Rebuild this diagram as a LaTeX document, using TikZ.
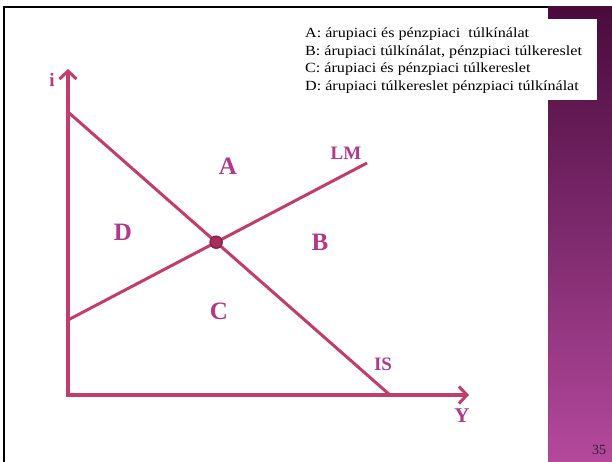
\documentclass[tikz,border=0pt]{standalone}
\usepackage{fontspec}
\setmainfont{Liberation Serif}
\newfontfamily\legfont[FakeStretch=1.15]{Liberation Serif}
\usetikzlibrary{arrows.meta}
\definecolor{curve}{HTML}{C23C6C}
\definecolor{lab}{HTML}{B2388A}
\definecolor{dotc}{HTML}{A52F5E}
\definecolor{dotb}{HTML}{8A2250}
\definecolor{stripT}{HTML}{4A0B3C}
\definecolor{stripM}{HTML}{7E2A6E}
\definecolor{stripB}{HTML}{B4499C}
\tikzset{
  curveline/.style={draw=curve, line width=3pt},
  axisline/.style={draw=curve, line width=3.5pt, line cap=butt,
    {Straight Barb[length=8pt,width=17pt,line width=3pt]}-{Straight Barb[length=8pt,width=17pt,line width=3pt]}},
  region/.style={text=lab, font=\fontsize{25}{27}\selectfont\bfseries, inner sep=0pt},
  curvelab/.style={text=lab, font=\fontsize{19}{21}\selectfont\bfseries, inner sep=0pt},
}
\begin{document}
\begin{tikzpicture}[x=1pt,y=-1pt]
\useasboundingbox (0,0) rectangle (612,462);
\fill[white] (0,0) rectangle (612,462);
% purple strip
\shade[top color=stripT, bottom color=stripB, middle color=stripM] (548,7) rectangle (612,462);
% slide frame
\draw[line width=2pt] (4,462) -- (4,7.5) -- (548,7.5);
% legend box
\fill[white] (300,19) rectangle (597,100);
\node[anchor=north west, align=left, inner sep=0pt,
      font=\legfont\fontsize{14}{17.5}\selectfont] (legend) at (305,28)
  {A: árupiaci és pénzpiaci \ túlkínálat\\
   B: árupiaci túlkínálat, pénzpiaci túlkereslet\\
   C: árupiaci és pénzpiaci túlkereslet\\
   D: árupiaci túlkereslet pénzpiaci túlkínálat};
% coordinates
\coordinate (O) at (68,395);
\coordinate (Ytop) at (68,69);
\coordinate (Xend) at (469,395);
\coordinate (IS1) at (68,112);
\coordinate (IS2) at (390,395);
\coordinate (LM1) at (68,320);
\coordinate (LM2) at (367,163);
% axes
\draw[axisline] (Ytop) -- (O) -- (Xend);
% curves
\draw[curveline] (IS1) -- (IS2);
\draw[curveline] (LM1) -- (LM2);
\coordinate (E) at (intersection of IS1--IS2 and LM1--LM2);
\fill[dotc, draw=dotb, line width=1.5pt] (E) circle (6pt);
% labels
\node[curvelab] (ilab) at (52,80) {i};
\node[curvelab, font=\fontsize{21}{23}\selectfont\bfseries] (Ylab) at (462,416) {Y};
\node[curvelab] (LMlab) at (346,153) {LM};
\node[curvelab] (ISlab) at (383,364) {IS};
\node[region] (A) at (228,166) {A};
\node[region] (B) at (320,242) {B};
\node[region] (C) at (219,311) {C};
\node[region] (D) at (123,232) {D};
% page number
\node[font=\fontsize{14}{16}\selectfont, text=black!85, inner sep=0pt] (pg) at (599,450) {35};
\end{tikzpicture}
\end{document}
